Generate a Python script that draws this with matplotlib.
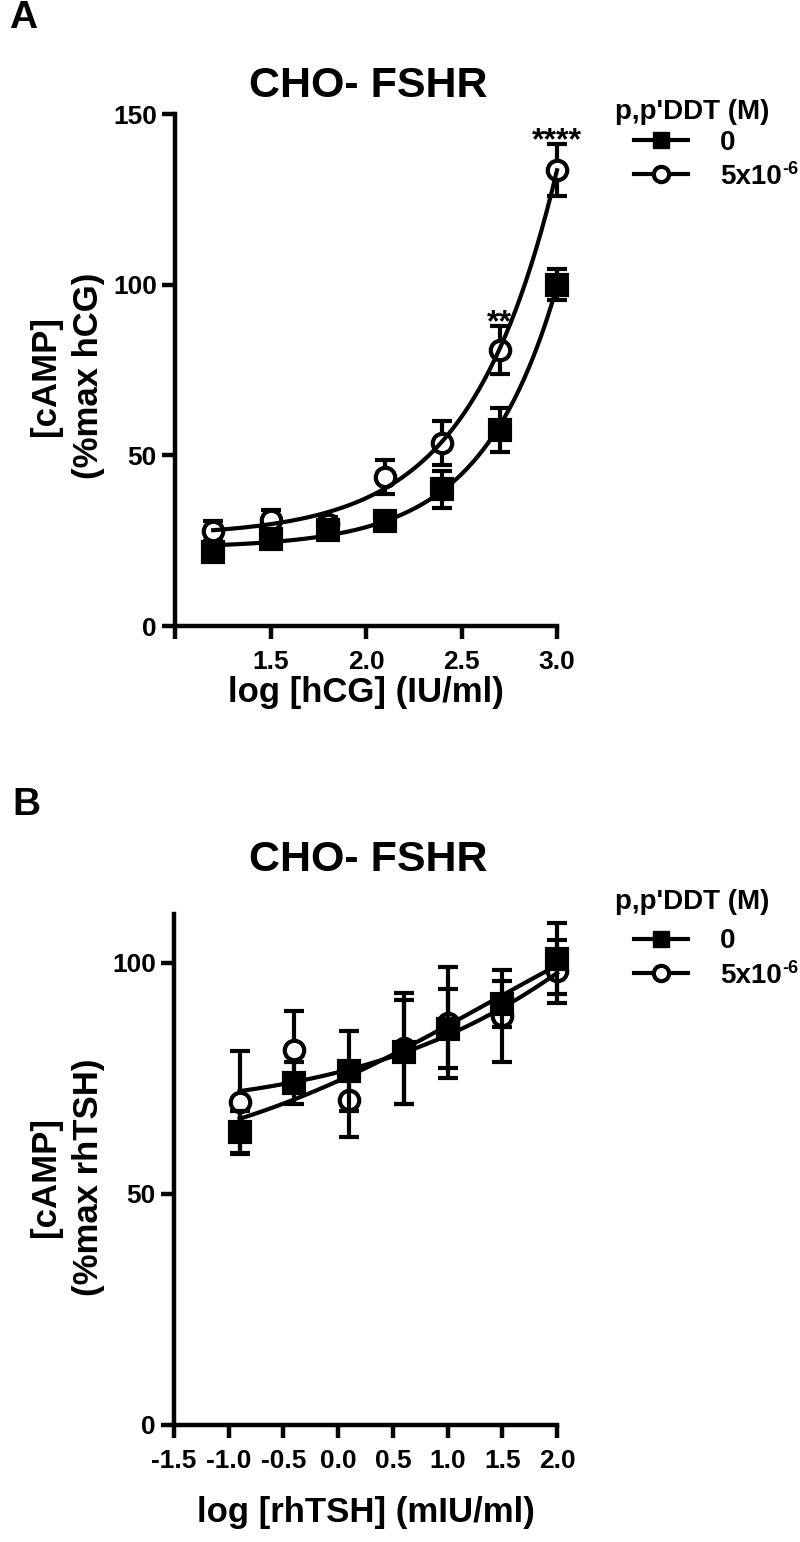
import numpy as np
import matplotlib
matplotlib.use('Agg')
import matplotlib.pyplot as plt
from matplotlib.lines import Line2D

plt.rcParams['font.family'] = ['Liberation Sans', 'DejaVu Sans']
plt.rcParams['font.weight'] = 'bold'

# panel A: log [hCG]
hcg_x = np.array([1.2, 1.5, 1.8, 2.1, 2.4, 2.7, 3.0])
hcg_ctrl = np.array([21.7, 25.5, 28.0, 30.8, 40.0, 57.4, 100.0])
hcg_ctrl_err = np.array([2.0, 2.5, 2.0, 2.0, 5.5, 6.5, 4.5])
hcg_ddt = np.array([27.8, 31.0, 30.0, 43.6, 53.6, 80.9, 133.6])
hcg_ddt_err = np.array([3.0, 3.0, 2.0, 5.0, 6.5, 7.0, 7.7])
hcg_stars = ['', '', '', '', '', '**', '****']

# panel B: log [rhTSH]
tsh_x = np.array([-0.9, -0.4, 0.1, 0.6, 1.0, 1.5, 2.0])
tsh_ctrl = np.array([63.3, 74.0, 76.5, 80.7, 85.7, 91.1, 100.8])
tsh_ctrl_err = np.array([4.7, 4.5, 8.7, 11.3, 8.5, 5.0, 7.7])
tsh_ddt = np.array([69.8, 81.0, 70.2, 81.5, 87.0, 88.4, 98.1])
tsh_ddt_err = np.array([11.0, 8.5, 8.0, 12.0, 12.0, 10.0, 6.8])

legend_title = "p,p'DDT (M)"
legend_labels = ['0', '5x10']
legend_sup = '-6'


def fit_curve(x, y):
    # simple dose-response fit (bottom, top, logEC50, hill) by grid search
    best = None
    for h in np.linspace(0.3, 3.0, 28):
        for e in np.linspace(x.min() - 1, x.max() + 3, 300):
            f = 1.0 / (1.0 + 10 ** ((e - x) * h))
            A = np.column_stack([np.ones_like(x), f])
            coef = np.linalg.lstsq(A, y, rcond=None)[0]
            err = np.sum((A @ coef - y) ** 2)
            if best is None or err < best[0]:
                best = (err, h, e, coef)
    _, h, e, coef = best
    xx = np.linspace(x.min(), x.max(), 200)
    return xx, coef[0] + coef[1] / (1.0 + 10 ** ((e - xx) * h))


def draw_panel(ax, x, ctrl, ctrl_err, ddt, ddt_err):
    for y, err, mk, face, z in [(ddt, ddt_err, 'o', 'white', 3), (ctrl, ctrl_err, 's', 'black', 5)]:
        ax.errorbar(x, y, yerr=err, fmt='none', ecolor='black', elinewidth=3,
                    capsize=7, capthick=3, zorder=z, clip_on=False)
        ax.plot(x, y, ls='none', marker=mk, ms=14, mfc=face, mec='black',
                mew=3, zorder=z + 0.5, clip_on=False)
        xx, yy = fit_curve(x, y)
        ax.plot(xx, yy, color='black', lw=3, zorder=4, clip_on=False)
    for side in ['top', 'right']:
        ax.spines[side].set_visible(False)
    for side in ['left', 'bottom']:
        ax.spines[side].set_linewidth(3.2)
    ax.tick_params(axis='both', length=9.5, width=3.2, labelsize=19, direction='out')
    ax.tick_params(axis='x', pad=8)
    ax.tick_params(axis='y', pad=3.5)


def add_legend(ax, fig, title_y, rows_y):
    fig.text(615 / 800, title_y, legend_title, fontsize=20, ha='left', va='center')
    handles = [Line2D([], [], color='black', lw=3, marker='s', ms=11, mfc='black', mec='black'),
               Line2D([], [], color='black', lw=3, marker='o', ms=11, mfc='white', mec='black', mew=3)]
    return ax.legend(handles, legend_labels, loc='center left', bbox_to_anchor=(634 / 800, rows_y),
                     bbox_transform=fig.transFigure, frameon=False, fontsize=20,
                     handlelength=1.95, handletextpad=1.15, labelspacing=0.3, borderpad=0,
                     borderaxespad=0)


fig = plt.figure(figsize=(8, 15.42), dpi=100)

axA = fig.add_axes([0.21875, 0.59403, 0.4775, 0.33204])
draw_panel(axA, hcg_x, hcg_ctrl, hcg_ctrl_err, hcg_ddt, hcg_ddt_err)
axA.set_xlim(1.0, 3.0)
axA.set_ylim(0, 150)
axA.set_xticks([1.0, 1.5, 2.0, 2.5, 3.0])
axA.set_xticklabels(['', '1.5', '2.0', '2.5', '3.0'])
axA.set_yticks([0, 50, 100, 150])
for xi, yi, ei, s in zip(hcg_x, hcg_ddt, hcg_ddt_err, hcg_stars):
    if s:
        axA.text(xi, yi + ei - 1.5, s, fontsize=23, ha='center', va='baseline')
fig.text(9 / 800, 1.0, 'A', fontsize=28, ha='left', va='top')
fig.text(368 / 800, 1 - 97 / 1542, 'CHO- FSHR', fontsize=31, ha='center', va='baseline')
fig.text(366 / 800, 1 - 702 / 1542, 'log [hCG] (IU/ml)', fontsize=25, ha='center', va='baseline')
fig.text(67 / 800, 1 - 376 / 1542, '[cAMP]\n(%max hCG)', fontsize=25, rotation=90,
         ha='center', va='center', multialignment='center', linespacing=1.4)
legA = add_legend(axA, fig, 1 - 112 / 1542, 1 - 160 / 1542)

axB = fig.add_axes([0.2175, 0.07588, 0.47875, 0.33139])
draw_panel(axB, tsh_x, tsh_ctrl, tsh_ctrl_err, tsh_ddt, tsh_ddt_err)
axB.set_xlim(-1.5, 2.0)
axB.set_ylim(0, 110.5)
axB.set_xticks(np.arange(-1.5, 2.01, 0.5))
axB.set_xticklabels(['-1.5', '-1.0', '-0.5', '0.0', '0.5', '1.0', '1.5', '2.0'])
axB.set_yticks([0, 50, 100])
fig.text(12 / 800, 1 - 787 / 1542, 'B', fontsize=28, ha='left', va='top')
fig.text(368 / 800, 1 - 871 / 1542, 'CHO- FSHR', fontsize=31, ha='center', va='baseline')
fig.text(366 / 800, 1 - 1522 / 1542, 'log [rhTSH] (mIU/ml)', fontsize=25, ha='center', va='baseline')
fig.text(67 / 800, 1 - 1177 / 1542, '[cAMP]\n(%max rhTSH)', fontsize=25, rotation=90,
         ha='center', va='center', multialignment='center', linespacing=1.4)
legB = add_legend(axB, fig, 1 - 902 / 1542, 1 - 958.5 / 1542)

# superscript exponent after the "5x10" legend label
fig.canvas.draw()
for leg in [legA, legB]:
    bb = leg.get_texts()[1].get_window_extent()
    fig.text(bb.x1 / 800 + 0.001, (bb.y0 + 0.78 * bb.height) / 1542, legend_sup,
             fontsize=13, ha='left', va='center')

fig.savefig('out.png', dpi=100)
